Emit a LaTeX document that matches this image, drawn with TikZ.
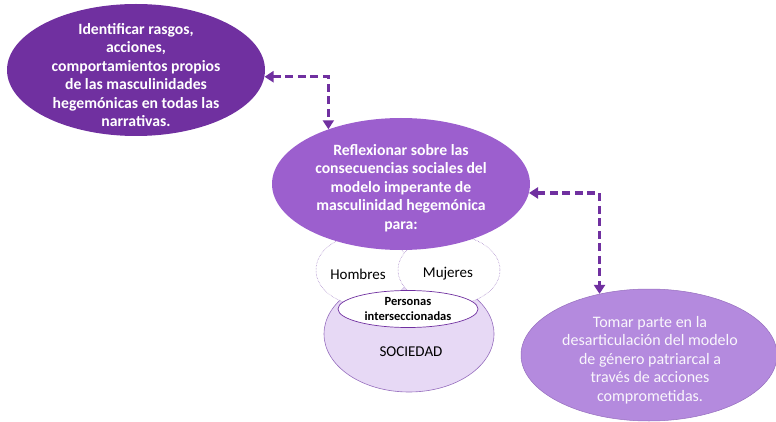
\documentclass[tikz,border=0pt]{standalone}
\usepackage{fontspec}
\setmainfont{Carlito}
\usetikzlibrary{shapes.geometric,arrows.meta}
\definecolor{darkp}{RGB}{112,48,160}
\definecolor{midp}{RGB}{156,95,206}
\definecolor{lightp}{RGB}{180,138,222}
\definecolor{paleP}{RGB}{231,217,245}
\definecolor{edgep}{RGB}{150,110,190}
\tikzset{
  ell/.style={ellipse, inner sep=0pt, align=center},
  bigbold/.style={align=center, font={\bfseries\fontsize{15.7}{18.5}\selectfont}},
  bigtext/.style={align=center, font={\fontsize{16}{18.5}\selectfont}},
  lbl/.style={font={\fontsize{15}{17}\selectfont}},
  arr/.style={draw=darkp, line width=3.2pt, dash pattern=on 8pt off 4.5pt,
    {Triangle[width=11pt,length=9pt]}-{Triangle[width=11pt,length=9pt]}},
}
\begin{document}
\begin{tikzpicture}[x=1pt,y=-1pt]
\useasboundingbox (0,0) rectangle (776,422);
% Sociedad
\node[ell, fill=paleP, draw=edgep, line width=0.6pt, minimum width=170, minimum height=116] (soc) at (409,334) {};
\node[lbl] (soct) at (411,352) {SOCIEDAD};
% Hombres / Mujeres
\node[ell, fill=white, draw=edgep, densely dotted, line width=0.5pt, minimum width=94, minimum height=70] (hom) at (363,270) {};
\node[ell, fill=white, draw=edgep, densely dotted, line width=0.5pt, minimum width=102, minimum height=70] (muj) at (449,270) {};
\node[lbl] (homt) at (358,274) {Hombres};
\node[lbl] (mujt) at (448,274) {Mujeres};
% Middle ellipse
\node[ell, fill=midp, minimum width=258, minimum height=132] (mid) at (401,184) {};
\node[text=white, bigbold] (midt) at (401,188)
  {Reflexionar sobre las\\consecuencias sociales del\\modelo imperante de\\masculinidad hegemónica\\para:};
% Personas
\node[ell, fill=white, draw=darkp, line width=0.7pt, minimum width=140, minimum height=37,
  font={\bfseries\fontsize{12.5}{15}\selectfont}] (per) at (408,309) {Personas\\interseccionadas};
% Top-left
\node[ell, fill=darkp, minimum width=258, minimum height=132] (tl) at (136,70) {};
\node[text=white, bigbold] (tlt) at (136,75)
  {Identificar rasgos,\\acciones,\\comportamientos propios\\de las masculinidades\\hegemónicas en todas las\\narrativas.};
% Bottom-right
\node[ell, fill=lightp, draw=edgep, line width=0.5pt, minimum width=256, minimum height=132] (br) at (649,355) {};
\node[text=white!92!lightp, bigtext] (brt) at (650,360)
  {Tomar parte en la\\desarticulación del modelo\\de género patriarcal a\\través de acciones\\comprometidas.};
% Connectors
\draw[arr] (tl.-3) -| (mid.143);
\draw[arr] (mid.-4) -| (br.129);
\end{tikzpicture}
\end{document}
